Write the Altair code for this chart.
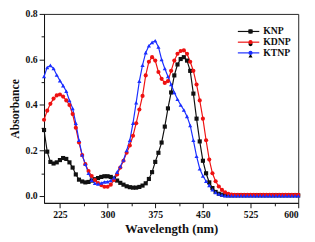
import altair as alt
import pandas as pd

wavelength = list(range(200, 601, 5))

knp = [0.29, 0.195, 0.15, 0.143, 0.148, 0.158, 0.167, 0.163, 0.148, 0.125,
       0.095, 0.072, 0.064, 0.06, 0.062, 0.068, 0.074, 0.079, 0.084, 0.087,
       0.087, 0.084, 0.077, 0.068, 0.058, 0.05, 0.043, 0.039, 0.037, 0.037,
       0.04, 0.046, 0.056, 0.075, 0.105, 0.15, 0.19, 0.235, 0.305, 0.385,
       0.455, 0.53, 0.578, 0.602, 0.61, 0.595, 0.55, 0.45, 0.34, 0.24,
       0.155, 0.10, 0.06, 0.035, 0.018, 0.01, 0.006, 0.004, 0.003, 0.003,
       0.003, 0.003, 0.003, 0.003, 0.003, 0.003, 0.003, 0.003, 0.003, 0.003,
       0.003, 0.003, 0.003, 0.003, 0.003, 0.003, 0.003, 0.003, 0.003, 0.003,
       0.003]

kdnp = [0.335, 0.375, 0.405, 0.428, 0.442, 0.446, 0.437, 0.42, 0.40, 0.36,
        0.30, 0.235, 0.18, 0.14, 0.11, 0.088, 0.07, 0.057, 0.048, 0.041,
        0.041, 0.05, 0.07, 0.095, 0.125, 0.155, 0.19, 0.222, 0.265, 0.32,
        0.38, 0.44, 0.53, 0.59, 0.61, 0.595, 0.545, 0.515, 0.497, 0.505,
        0.55, 0.595, 0.625, 0.637, 0.64, 0.625, 0.59, 0.55, 0.49, 0.42,
        0.34, 0.245, 0.16, 0.10, 0.065, 0.042, 0.027, 0.016, 0.01, 0.007,
        0.005, 0.005, 0.005, 0.005, 0.005, 0.005, 0.005, 0.005, 0.005, 0.005,
        0.005, 0.005, 0.005, 0.005, 0.005, 0.005, 0.005, 0.005, 0.005, 0.005,
        0.005]

ktnp = [0.525, 0.565, 0.574, 0.56, 0.532, 0.507, 0.485, 0.46, 0.42, 0.385,
        0.32, 0.245, 0.18, 0.14, 0.10, 0.07, 0.056, 0.053, 0.057, 0.062,
        0.063, 0.068, 0.08, 0.105, 0.13, 0.158, 0.20, 0.245, 0.32, 0.41,
        0.505, 0.575, 0.63, 0.66, 0.675, 0.682, 0.655, 0.60, 0.56, 0.525,
        0.49, 0.455, 0.425, 0.40, 0.378, 0.35, 0.31, 0.245, 0.175, 0.12,
        0.088, 0.065, 0.047, 0.028, 0.016, 0.009, 0.005, 0.002, 0.001, 0.001,
        0.001, 0.001, 0.001, 0.001, 0.001, 0.001, 0.001, 0.001, 0.001, 0.001,
        0.001, 0.001, 0.001, 0.001, 0.001, 0.001, 0.001, 0.001, 0.001, 0.001,
        0.001]

series_names = ["KNP", "KDNP", "KTNP"]
series_colors = ["#111111", "#ee1111", "#1a2eff"]
series_shapes = ["square", "circle", "triangle-up"]

x_ticks = [225, 262.5, 300, 337.5, 375, 412.5, 450, 487.5, 525, 562.5, 600]
y_ticks = [0.0, 0.1, 0.2, 0.3, 0.4, 0.5, 0.6, 0.7, 0.8]

rows = []
for name, vals in zip(series_names, [knp, kdnp, ktnp]):
    for w, v in zip(wavelength, vals):
        rows.append({"wavelength": w, "absorbance": v, "series": name})
df = pd.DataFrame(rows)

FONT = "Liberation Serif"

x_enc = alt.X(
    "wavelength:Q",
    scale=alt.Scale(domain=[200, 600], nice=False, zero=False),
    axis=alt.Axis(
        values=x_ticks,
        title="Wavelength (nm)",
        titleFontSize=13,
        labelExpr="datum.value % 75 === 0 ? datum.label : ''",
        tickSize={"condition": {"test": "datum.value % 75 === 0", "value": 5}, "value": 3},
        grid=False,
        labelPadding=2,
        titlePadding=3,
    ),
)
y_enc = alt.Y(
    "absorbance:Q",
    scale=alt.Scale(domain=[-0.03, 0.8], nice=False, zero=False),
    axis=alt.Axis(
        values=y_ticks,
        title="Absorbance",
        format=".1f",
        labelExpr="round(datum.value * 10) % 2 === 0 ? datum.label : ''",
        tickSize={"condition": {"test": "round(datum.value * 10) % 2 === 0", "value": 5}, "value": 3},
        grid=False,
        labelPadding=2,
        titlePadding=4,
    ),
)

LEG_X = 205
LEG_Y = 13

lines = alt.Chart(df).mark_line(strokeWidth=1.2).encode(
    x=x_enc,
    y=y_enc,
    stroke=alt.Stroke(
        "series:N",
        scale=alt.Scale(domain=series_names, range=series_colors),
        legend=alt.Legend(
            orient="none", legendX=LEG_X, legendY=LEG_Y, title=None,
            symbolType="M-2.75,0L2.75,0", symbolSize=64, symbolStrokeWidth=1.2,
            labelFont=FONT, labelFontSize=10, labelFontWeight="bold",
            labelColor="#111111", labelOffset=10, padding=0, rowPadding=1,
        ),
    ),
)

marker_legend = alt.Legend(
    orient="none", legendX=LEG_X + 2, legendY=LEG_Y, title=None,
    symbolSize=18, labelFont=FONT, labelFontSize=10,
    labelFontWeight="bold", labelOpacity=0, labelExpr="''",
    padding=0, rowPadding=1,
)

points = alt.Chart(df).mark_point(filled=True, size=18, opacity=1).encode(
    x=x_enc,
    y=y_enc,
    fill=alt.Fill(
        "series:N", sort=series_names,
        scale=alt.Scale(range=series_colors),
        legend=marker_legend,
    ),
    shape=alt.Shape(
        "series:N", sort=series_names,
        scale=alt.Scale(range=series_shapes),
        legend=marker_legend,
    ),
)

chart = alt.layer(lines, points).properties(
    width=261,
    height=194,
    autosize=alt.AutoSizeParams(type="none"),
    padding={"left": 37, "top": 3, "right": 9, "bottom": 34},
).configure_view(
    stroke="#222222", strokeWidth=1
).configure_axis(
    labelFont=FONT, labelFontSize=10, labelFontWeight="bold", labelColor="#111111",
    titleFont=FONT, titleFontSize=12, titleFontWeight="bold", titleColor="#111111",
    domainColor="#111111", tickColor="#111111", domainWidth=1, tickWidth=1,
)

chart.save("out.html", embed_options={"renderer": "svg", "actions": False})
